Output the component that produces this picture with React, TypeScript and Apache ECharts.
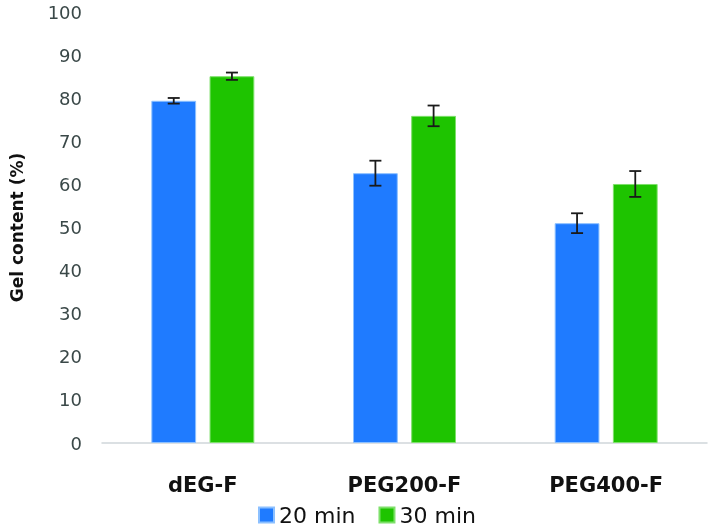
import React, { useEffect, useRef } from "react";
import * as echarts from "echarts";

const categories = ["dEG-F", "PEG200-F", "PEG400-F"];
const seriesNames = ["20 min", "30 min"];
const values20 = [79.4, 62.6, 51.0];
const values30 = [85.1, 75.9, 60.1];
const err20 = [0.65, 2.9, 2.3];
const err30 = [0.85, 2.4, 3.0];
const yTicks = [0, 10, 20, 30, 40, 50, 60, 70, 80, 90, 100];

const BLUE = "#1f7bff";
const GREEN = "#1ec400";
const BAR_W = 0.222;
const BAR_GAP = 0.3;
const FONT = "DejaVu Sans";

export default function App() {
  const ref = useRef<HTMLDivElement>(null);
  useEffect(() => {
    if (!ref.current) return;
    const chart = echarts.init(ref.current, undefined, { renderer: "svg" });
    const errorSeries = (vals: number[], errs: number[], idx: number) => ({
      type: "custom",
      name: seriesNames[idx] + " err",
      z: 10,
      silent: true,
      data: vals.map((v, i) => [i, v - errs[i], v + errs[i]]),
      renderItem: (params: any, api: any) => {
        const ci = api.value(0);
        const lo = api.coord([ci, api.value(1)]);
        const hi = api.coord([ci, api.value(2)]);
        const bw = api.size([1, 0])[0] as number;
        const w = bw * BAR_W;
        const g = w * BAR_GAP;
        const centerOffset = ((idx === 0 ? -1 : 1) * (w + g)) / 2;
        const x = lo[0] + centerOffset;
        const cap = 6;
        const style = { stroke: "#1a1a1a", lineWidth: 1.8 };
        return {
          type: "group",
          children: [
            { type: "line", shape: { x1: x, y1: lo[1], x2: x, y2: hi[1] }, style },
            { type: "line", shape: { x1: x - cap, y1: lo[1], x2: x + cap, y2: lo[1] }, style },
            { type: "line", shape: { x1: x - cap, y1: hi[1], x2: x + cap, y2: hi[1] }, style },
          ],
        };
      },
    });
    chart.setOption({
      animation: false,
      textStyle: { fontFamily: FONT },
      grid: { left: 92, right: 5, top: 12, bottom: 86, containLabel: false },
      legend: {
        data: seriesNames,
        top: 499,
        left: 253,
        itemWidth: 15,
        itemHeight: 15,
        itemGap: 23,
        icon: "rect",
        textStyle: { fontSize: 22, color: "#111", fontFamily: FONT },
      },
      xAxis: {
        type: "category",
        data: categories,
        axisLine: { lineStyle: { color: "#d0d6da", width: 1.5 } },
        axisTick: { show: false },
        axisLabel: {
          fontSize: 21,
          fontWeight: "bold",
          color: "#111",
          margin: 31,
          fontFamily: FONT,
        },
      },
      yAxis: {
        type: "value",
        min: 0,
        max: 100,
        interval: 10,
        name: "Gel content (%)",
        nameLocation: "middle",
        nameGap: 77,
        nameTextStyle: { fontSize: 17, fontWeight: "bold", color: "#111", fontFamily: FONT },
        axisLine: { show: false },
        axisTick: { show: false },
        splitLine: { show: false },
        axisLabel: {
          fontSize: 18,
          color: "#3a4848",
          margin: 20,
          fontFamily: FONT,
          formatter: (v: number) => (yTicks.includes(v) ? String(v) : ""),
        },
      },
      series: [
        {
          type: "bar",
          name: seriesNames[0],
          data: values20,
          barWidth: BAR_W * 100 + "%",
          barGap: BAR_GAP * 100 + "%",
          itemStyle: { color: BLUE, borderColor: "#8cc0ff", borderWidth: 1 },
        },
        {
          type: "bar",
          name: seriesNames[1],
          data: values30,
          barWidth: BAR_W * 100 + "%",
          barGap: BAR_GAP * 100 + "%",
          itemStyle: { color: GREEN, borderColor: "#7ee06a", borderWidth: 1 },
        },
        errorSeries(values20, err20, 0),
        errorSeries(values30, err30, 1),
      ],
    });
    return () => chart.dispose();
  }, []);
  return (
    <div
      ref={ref}
      style={{ position: "fixed", left: 0, top: 0, width: 712, height: 529 }}
    />
  );
}
